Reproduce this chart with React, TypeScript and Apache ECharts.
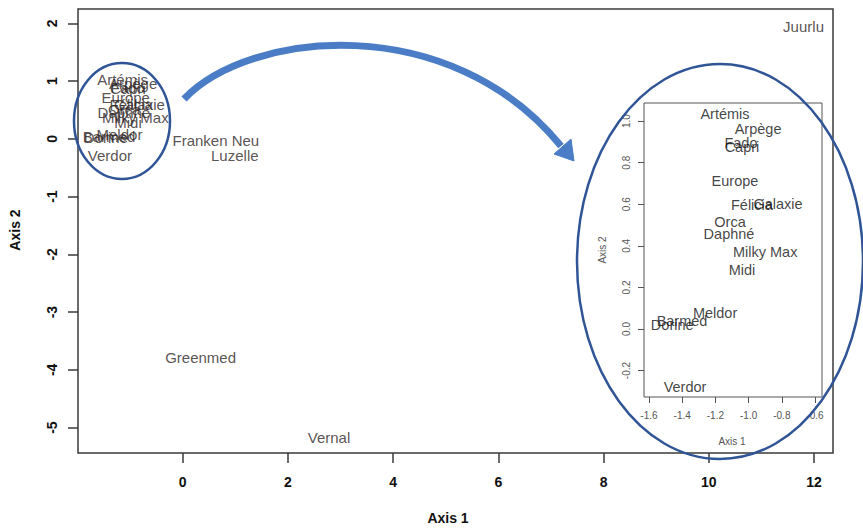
import React, { useEffect, useRef } from "react";
import * as echarts from "echarts";

// Cultivar labels and their coordinates on the two axes
const names = [
  "Artémis", "Arpège", "Fado", "Capri", "Europe", "Félicia", "Galaxie", "Orca",
  "Daphné", "Milky Max", "Midi", "Meldor", "Barmed", "Dorine", "Verdor",
  "Franken Neu", "Luzelle", "Greenmed", "Vernal", "Juurlu",
];
const axis1 = [
  -1.142, -0.943, -1.046, -1.04, -1.082, -0.98, -0.823, -1.112,
  -1.118, -0.9, -1.04, -1.202, -1.401, -1.46, -1.383,
  0.63, 0.99, 0.34, 2.78, 11.8,
];
const axis2 = [
  1.034, 0.96, 0.894, 0.875, 0.71, 0.596, 0.6, 0.515,
  0.456, 0.37, 0.284, 0.077, 0.038, 0.019, -0.28,
  -0.02, -0.28, -3.78, -5.18, 1.94,
];

// Tick labels
const mainXTicks = [0, 2, 4, 6, 8, 10, 12];
const mainYTicks = [-5, -4, -3, -2, -1, 0, 1, 2];
const insetXTicks = [-1.6, -1.4, -1.2, -1.0, -0.8, -0.6];
const insetYTicks = [-0.2, 0.0, 0.2, 0.4, 0.6, 0.8, 1.0];

const FONT = "'Liberation Sans', Arial, sans-serif";

export default function App() {
  const ref = useRef<HTMLDivElement>(null);

  useEffect(() => {
    if (!ref.current) return;
    const chart = echarts.init(ref.current, null, { renderer: "svg" });

    const allPts = names.map((n, i) => ({ name: n, value: [axis1[i], axis2[i]] }));
    const clusterPts = allPts.filter((p) => p.value[0] < 0);

    const labelStyle = (color: string, size: number) => ({
      show: true,
      position: "inside" as const,
      formatter: (p: any) => p.name,
      color,
      fontSize: size,
      fontFamily: FONT,
    });

    const option: any = {
      animation: false,
      backgroundColor: "#ffffff",
      textStyle: { fontFamily: FONT },
      grid: [
        {
          left: 78, top: 9, width: 755, height: 444,
          show: true, borderColor: "#3a3a3a", borderWidth: 1.5,
          containLabel: false, outerBoundsMode: "none",
        },
        {
          left: 644, top: 103, width: 178, height: 294,
          show: true, borderColor: "#555", borderWidth: 1,
          backgroundColor: "#ffffff",
          containLabel: false, outerBoundsMode: "none", z: 5,
        },
      ],
      xAxis: [
        {
          type: "value", gridIndex: 0, min: -1.99, max: 12.36,
          axisLine: { show: false, onZero: false },
          splitLine: { show: false },
          axisTick: { show: true, length: 10, customValues: mainXTicks, lineStyle: { color: "#3a3a3a", width: 1.5 } },
          axisLabel: { customValues: mainXTicks, margin: 22, fontSize: 14, fontWeight: "bold", color: "#111", fontFamily: FONT },
        },
        {
          type: "value", gridIndex: 1, min: -1.63, max: -0.558,
          axisLine: { show: false, onZero: false },
          splitLine: { show: false },
          axisTick: { show: true, length: 6, customValues: insetXTicks, lineStyle: { color: "#555" } },
          axisLabel: {
            customValues: insetXTicks, margin: 13, fontSize: 10, color: "#555", fontFamily: FONT,
            formatter: (v: number) => v.toFixed(1),
          },
        },
      ],
      yAxis: [
        {
          type: "value", gridIndex: 0, min: -5.44, max: 2.25,
          axisLine: { show: false, onZero: false },
          splitLine: { show: false },
          axisTick: { show: true, length: 10, customValues: mainYTicks, lineStyle: { color: "#3a3a3a", width: 1.5 } },
          axisLabel: { customValues: mainYTicks, rotate: 90, margin: 19, fontSize: 14, fontWeight: "bold", color: "#111", fontFamily: FONT },
        },
        {
          type: "value", gridIndex: 1, min: -0.327, max: 1.087,
          axisLine: { show: false, onZero: false },
          splitLine: { show: false },
          axisTick: { show: true, length: 6, customValues: insetYTicks, lineStyle: { color: "#555" } },
          axisLabel: {
            customValues: insetYTicks, rotate: 90, margin: 13, fontSize: 10, color: "#555", fontFamily: FONT,
            formatter: (v: number) => v.toFixed(1),
          },
        },
      ],
      series: [
        {
          type: "scatter", xAxisIndex: 0, yAxisIndex: 0,
          symbolSize: 1, itemStyle: { color: "rgba(0,0,0,0)" },
          data: allPts,
          label: labelStyle("#2e2626", 15),
        },
        {
          type: "scatter", xAxisIndex: 1, yAxisIndex: 1, z: 6,
          symbolSize: 1, itemStyle: { color: "rgba(0,0,0,0)" },
          data: clusterPts,
          label: labelStyle("#111111", 14.5),
        },
      ],
      graphic: [
        {
          type: "text", x: 448, y: 518, z: 50,
          style: { text: "Axis 1", font: `bold 14px ${FONT}`, fill: "#111", align: "center", verticalAlign: "middle" },
        },
        {
          type: "text", x: 15, y: 230, rotation: Math.PI / 2, z: 50,
          style: { text: "Axis 2", font: `bold 14px ${FONT}`, fill: "#111", align: "center", verticalAlign: "middle" },
        },
        {
          type: "text", x: 732, y: 441, z: 50,
          style: { text: "Axis 1", font: `10px ${FONT}`, fill: "#555", align: "center", verticalAlign: "middle" },
        },
        {
          type: "text", x: 602, y: 250, rotation: Math.PI / 2, z: 50,
          style: { text: "Axis 2", font: `10px ${FONT}`, fill: "#555", align: "center", verticalAlign: "middle" },
        },
        {
          type: "ellipse", z: 100,
          shape: { cx: 122, cy: 121, rx: 48, ry: 58 },
          style: { fill: "none", stroke: "#2f5597", lineWidth: 2.5 },
        },
        {
          type: "ellipse", z: 100,
          shape: { cx: 720, cy: 261.5, rx: 143, ry: 197.5 },
          style: { fill: "none", stroke: "#2f5597", lineWidth: 2.5 },
        },
        {
          type: "bezierCurve", z: 100,
          shape: { x1: 184, y1: 99, cpx1: 250, cpy1: 30, cpx2: 450, cpy2: 10, x2: 561, y2: 146 },
          style: { fill: "none", stroke: "#4a7dc6", lineWidth: 7 },
        },
        {
          type: "polygon", z: 100,
          shape: { points: [[574, 161], [554, 154], [571, 139]] },
          style: { fill: "#4a7dc6", stroke: "#4a7dc6", lineWidth: 1 },
        },
      ],
    };

    chart.setOption(option);
    return () => chart.dispose();
  }, []);

  return (
    <div
      ref={ref}
      style={{ position: "fixed", left: 0, top: 0, width: 863, height: 529, background: "#fff" }}
    />
  );
}
